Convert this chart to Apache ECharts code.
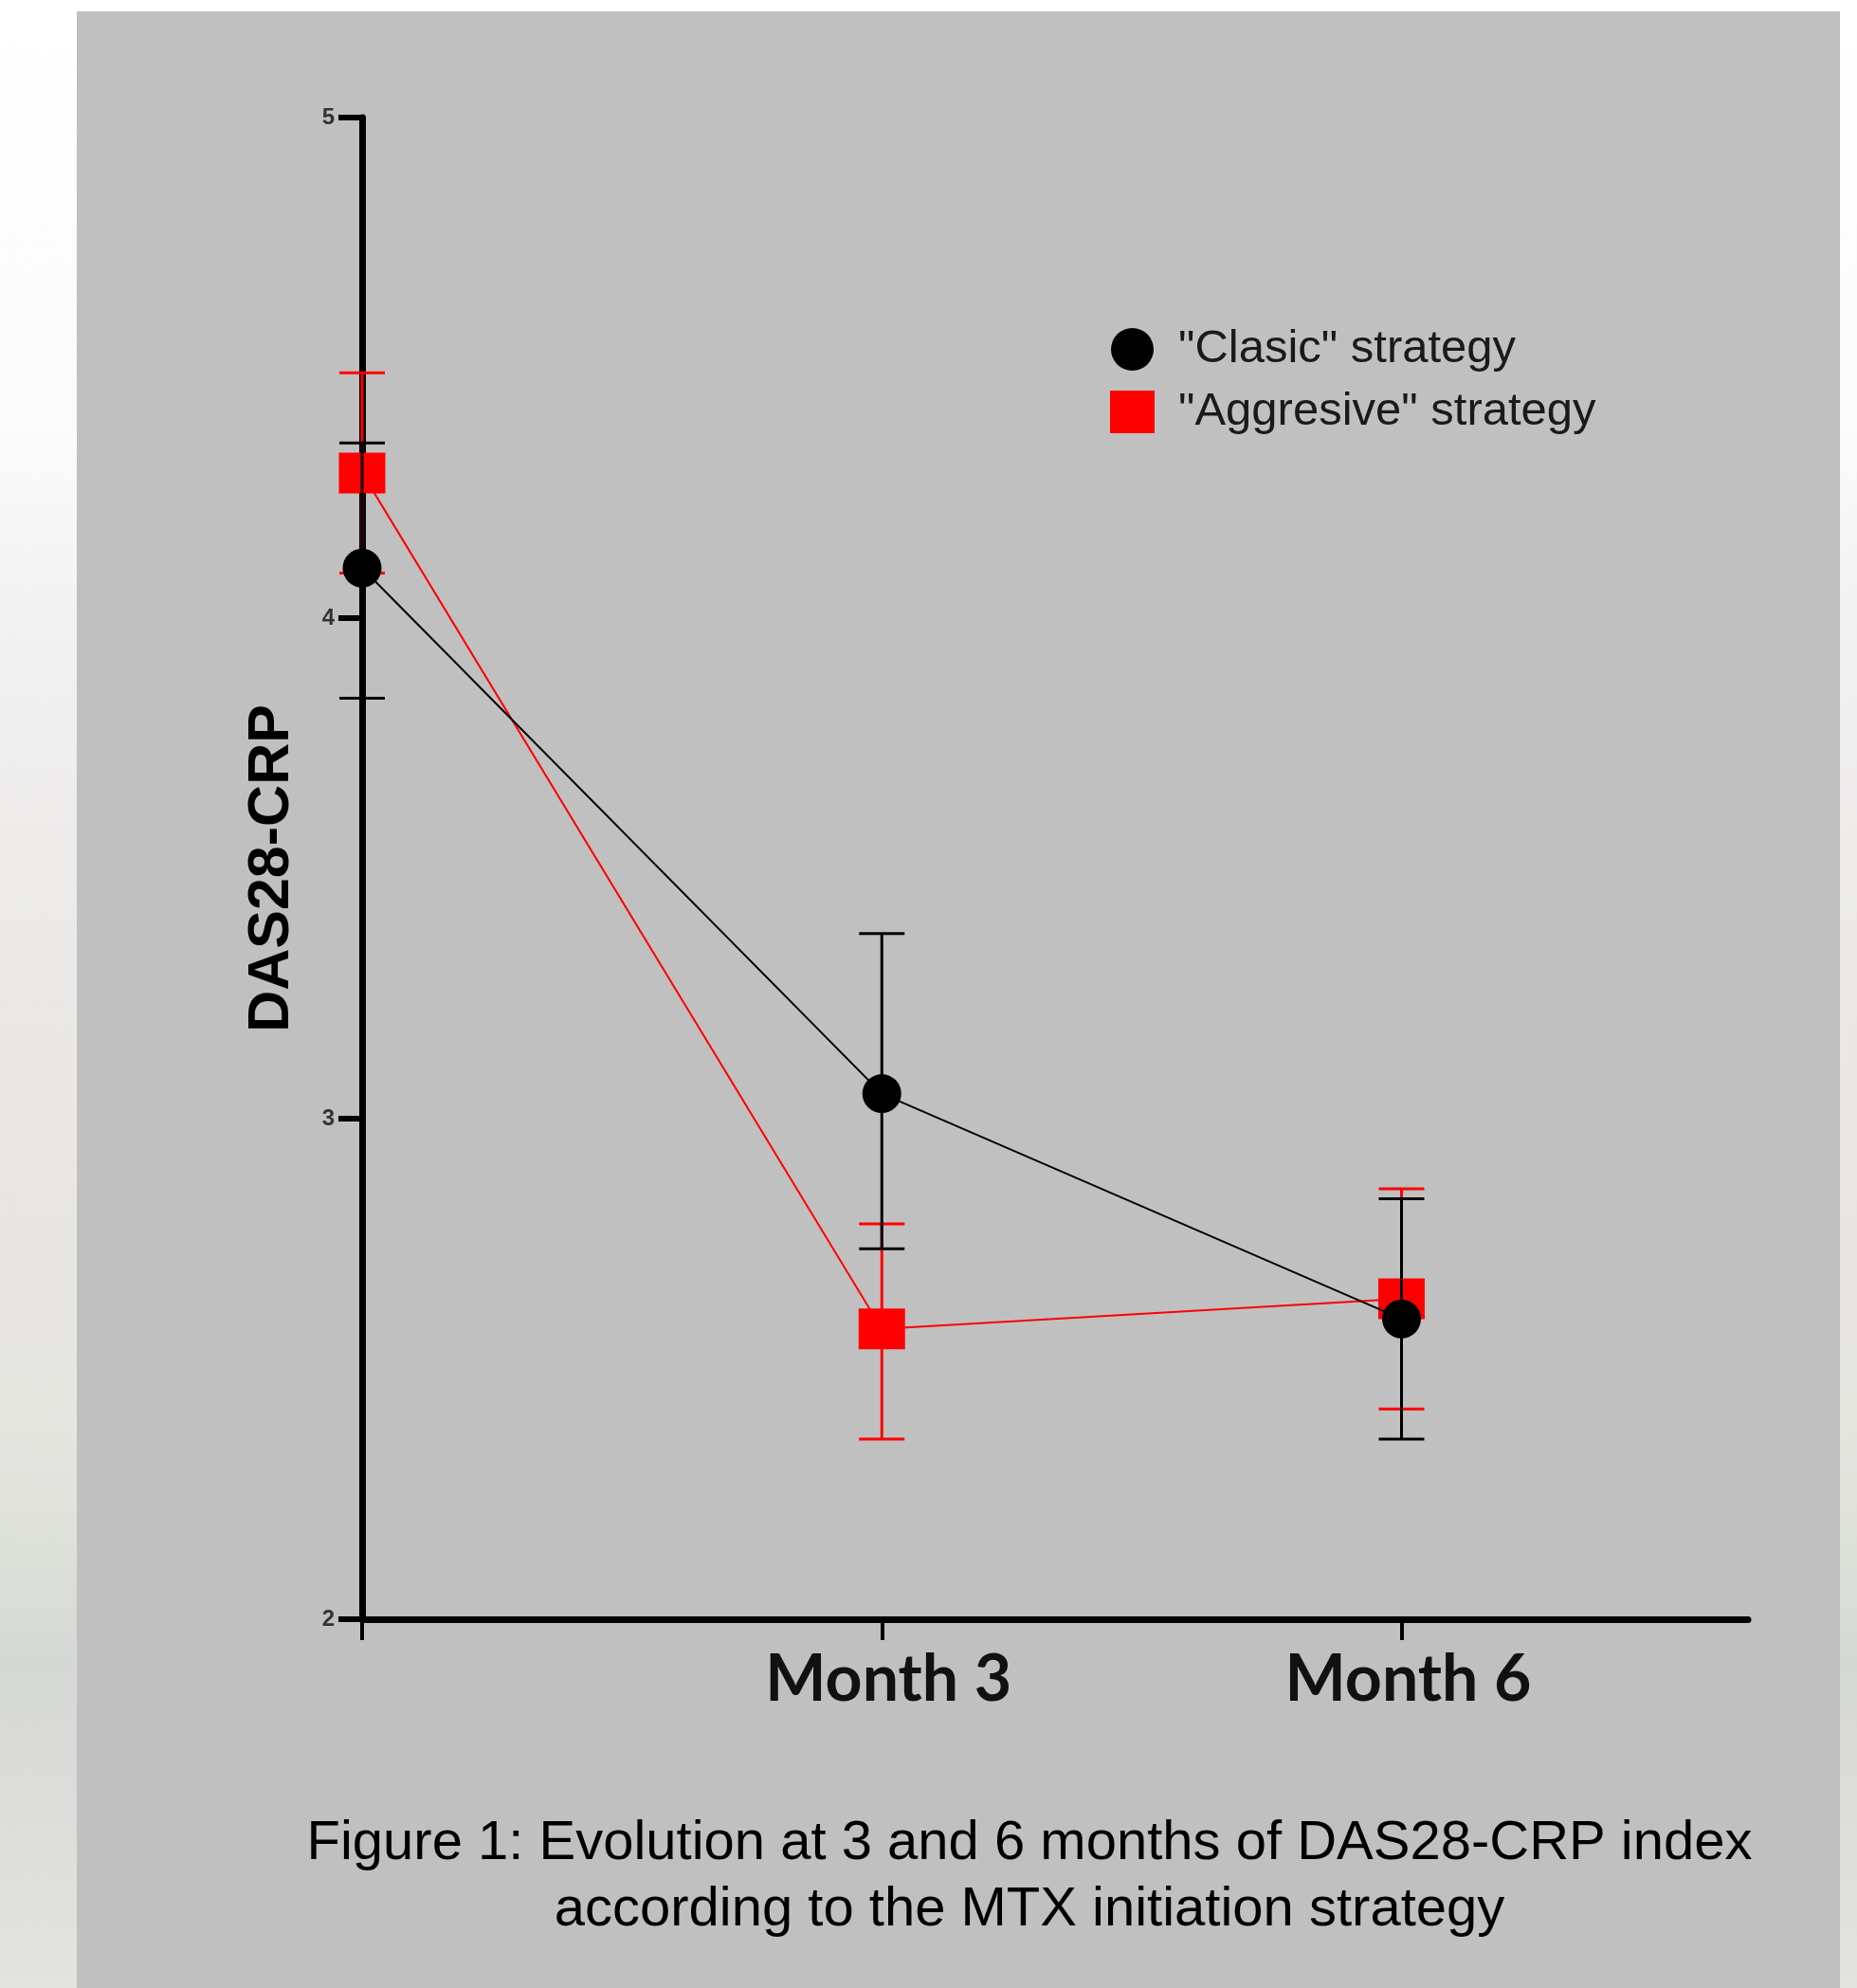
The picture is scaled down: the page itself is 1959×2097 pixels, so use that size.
<!DOCTYPE html>
<html>
<head>
<meta charset="utf-8">
<script src="https://cdn.jsdelivr.net/npm/echarts@6/dist/echarts.min.js"></script>
<style>
    html, body {
        margin: 0;
        padding: 0;
    }
    body {
        width: 1959px;
        height: 2097px;
        background: linear-gradient(to bottom, #ffffff 0px, #fbfbfb 450px, #f3f2f2 650px, #ecebea 900px, #e9e6e3 1200px, #e6e6e1 1500px, #dcdfd8 1650px, #d6d8d6 1750px, #e3e3df 2097px);
    }
    #chart {
        width: 1959px;
        height: 2097px;
    }
</style>
</head>
<body>
<div id="chart"></div>
<script>
// 分类与数据
const categories = ['', 'Month 3', 'Month 6'];
const months = [0, 3, 6];

const clasicMean = [4.10, 3.05, 2.60];
const clasicLow = [3.84, 2.74, 2.36];
const clasicHigh = [4.35, 3.37, 2.84];

const aggrMean = [4.29, 2.58, 2.64];
const aggrLow = [4.09, 2.36, 2.42];
const aggrHigh = [4.49, 2.79, 2.86];

const legendNames = ['"Clasic" strategy', '"Aggresive" strategy'];

let chart = echarts.init(document.getElementById('chart'));

// 误差线 (custom series)
function errorBars(low, high, color, z) {
    return {
        type: 'custom',
        z: z,
        silent: true,
        clip: false,
        data: months.map((m, i) => [m, low[i], high[i]]),
        encode: {x: 0, y: [1, 2]},
        renderItem: function (params, api) {
            let x = api.value(0);
            let lo = api.coord([x, api.value(1)]);
            let hi = api.coord([x, api.value(2)]);
            let half = 24;
            let st = {stroke: color, lineWidth: 3};
            return {
                type: 'group',
                children: [
                    {type: 'line', shape: {x1: lo[0], y1: lo[1], x2: hi[0], y2: hi[1]}, style: st},
                    {type: 'line', shape: {x1: lo[0] - half, y1: lo[1], x2: lo[0] + half, y2: lo[1]}, style: st},
                    {type: 'line', shape: {x1: hi[0] - half, y1: hi[1], x2: hi[0] + half, y2: hi[1]}, style: st}
                ]
            };
        }
    };
}

chart.setOption({
    animation: false,
    backgroundColor: 'transparent',
    graphic: [
        {
            type: 'rect',
            z: -10,
            shape: {x: 81, y: 12, width: 1860, height: 2100},
            style: {fill: '#c0c0c0'}
        },
        {
            type: 'text',
            x: 1086,
            y: 1945,
            style: {
                text: 'Figure 1: Evolution at 3 and 6 months of DAS28-CRP index',
                fontFamily: 'Liberation Sans, Arial',
                fontSize: 58,
                fill: '#000',
                align: 'center',
                verticalAlign: 'middle'
            }
        },
        {
            type: 'text',
            x: 1086,
            y: 2015,
            style: {
                text: 'according to the MTX initiation strategy',
                fontFamily: 'Liberation Sans, Arial',
                fontSize: 58,
                fill: '#000',
                align: 'center',
                verticalAlign: 'middle'
            }
        }
    ],
    legend: {
        orient: 'vertical',
        left: 1166,
        top: 339,
        itemWidth: 47,
        itemHeight: 45,
        itemGap: 17,
        textStyle: {
            fontFamily: 'Liberation Sans, Arial',
            fontSize: 49,
            lineHeight: 47,
            color: '#1a1a1a',
            padding: [0, 0, 0, 20]
        },
        data: [
            {name: legendNames[0], icon: 'circle'},
            {name: legendNames[1], icon: 'rect'}
        ]
    },
    grid: {
        left: 382,
        top: 124,
        width: 1462,
        height: 1584
    },
    xAxis: {
        type: 'value',
        min: 0,
        max: 8,
        splitLine: {show: false},
        axisLine: {lineStyle: {color: '#000', width: 7}},
        axisTick: {
            customValues: months,
            length: 22,
            lineStyle: {color: '#000', width: 4}
        },
        axisLabel: {
            customValues: [3, 6],
            formatter: v => categories[months.indexOf(v)],
            fontFamily: 'Lato',
            fontWeight: 'bold',
            fontSize: 68,
            color: '#111',
            margin: 30,
            padding: [0, 0, 0, 14]
        }
    },
    yAxis: {
        type: 'value',
        min: 2,
        max: 5,
        interval: 1,
        splitLine: {show: false},
        axisLine: {lineStyle: {color: '#000', width: 7}},
        axisTick: {length: 25, lineStyle: {color: '#000', width: 6}},
        axisLabel: {
            fontFamily: 'Liberation Sans, Arial',
            fontWeight: 'bold',
            fontSize: 24,
            color: '#333',
            margin: 29
        },
        name: 'DAS28-CRP',
        nameLocation: 'middle',
        nameGap: 64,
        nameTextStyle: {
            fontFamily: 'Liberation Sans, Arial',
            fontWeight: 'bold',
            fontSize: 61,
            color: '#000'
        }
    },
    series: [
        errorBars(aggrLow, aggrHigh, '#ff0000', 2),
        {
            name: legendNames[1],
            type: 'line',
            z: 3,
            data: months.map((m, i) => [m, aggrMean[i]]),
            symbol: 'rect',
            symbolSize: [49, 43],
            itemStyle: {color: '#ff0000'},
            lineStyle: {color: '#ff0000', width: 2}
        },
        errorBars(clasicLow, clasicHigh, '#000000', 4),
        {
            name: legendNames[0],
            type: 'line',
            z: 5,
            data: months.map((m, i) => [m, clasicMean[i]]),
            symbol: 'circle',
            symbolSize: 41,
            itemStyle: {color: '#000'},
            lineStyle: {color: '#000', width: 2}
        }
    ]
})
</script>
</body>
</html>
